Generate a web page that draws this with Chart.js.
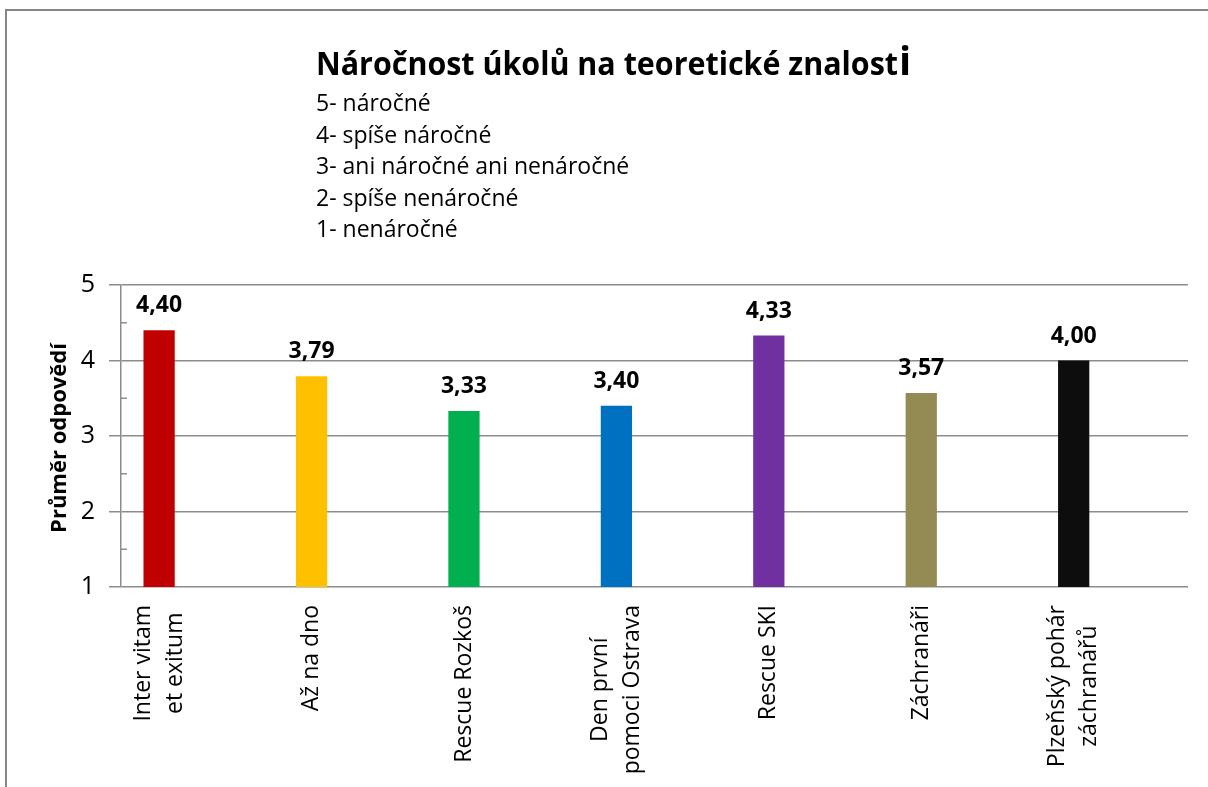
<!DOCTYPE html>
<html>
<head>
<meta charset="utf-8">
<script src="https://cdn.jsdelivr.net/npm/chart.js@4.4.0/dist/chart.umd.min.js"></script>
<style>
  body { margin: 0; background: #fff; }
  #wrap { width: 1208px; height: 787px; }
</style>
</head>
<body>
<div id="wrap"><canvas id="myChart" width="1208" height="787"></canvas></div>
<script>
const categories = [
  ["Inter vitam", "et exitum"],
  ["Až na dno"],
  ["Rescue Rozkoš"],
  ["Den první", "pomoci Ostrava"],
  ["Rescue SKI"],
  ["Záchranáři"],
  ["Plzeňský pohár", "záchranářů"]
];
const averages = [4.40, 3.79, 3.33, 3.40, 4.33, 3.57, 4.00];
// second (empty) series, as in the source sheet: it keeps the bars left of centre
const emptySeries = [null, null, null, null, null, null, null];
const barColors = ["#C00000", "#FFC000", "#00B050", "#0070C0", "#7030A0", "#948A54", "#0D0D0D"];
const chartTitle = "Náročnost úkolů na teoretické znalost";
const scaleNotes = [
  "5- náročné",
  "4- spíše náročné",
  "3- ani náročné ani nenáročné",
  "2- spíše nenáročné",
  "1- nenáročné"
];
const yTitle = "Průměr odpovědí";
const yTicks = [1, 2, 3, 4, 5];
const FONT = "'Open Sans', 'Noto Sans', sans-serif";

// frame, title and the scale explanation
const decorPlugin = {
  id: "decor",
  beforeDraw(chart) {
    const ctx = chart.ctx;
    ctx.save();
    ctx.fillStyle = "#fff";
    ctx.fillRect(0, 0, chart.width, chart.height);
    ctx.strokeStyle = "#868686";
    ctx.lineWidth = 2;
    ctx.beginPath();
    ctx.moveTo(6, chart.height);
    ctx.lineTo(6, 10);
    ctx.lineTo(chart.width, 10);
    ctx.stroke();

    ctx.fillStyle = "#000";
    ctx.textAlign = "left";
    ctx.textBaseline = "alphabetic";
    ctx.font = "bold 32px " + FONT;
    ctx.fillText(chartTitle, 316, 75, 582);
    const w = Math.min(ctx.measureText(chartTitle).width, 582);
    ctx.font = "bold 40px " + FONT;
    ctx.fillText("i", 316 + w + 1, 75);

    ctx.font = "23px " + FONT;
    scaleNotes.forEach((t, i) => {
      ctx.fillText(t, 316, 111 + i * 31.5);
    });

    ctx.font = "bold 22px " + FONT;
    ctx.textAlign = "center";
    ctx.textBaseline = "middle";
    ctx.save();
    ctx.translate(60, 438);
    ctx.rotate(-Math.PI / 2);
    ctx.fillText(yTitle, 0, 0);
    ctx.restore();
    ctx.restore();
  }
};

// values above bars, minor ticks and x labels
const labelPlugin = {
  id: "labels",
  afterDatasetsDraw(chart) {
    const ctx = chart.ctx;
    const meta = chart.getDatasetMeta(0);
    ctx.save();
    ctx.fillStyle = "#000";
    ctx.textAlign = "center";
    ctx.textBaseline = "alphabetic";
    ctx.font = "bold 23px " + FONT;
    meta.data.forEach((bar, i) => {
      ctx.fillText(averages[i].toFixed(2).replace(".", ","), bar.x, bar.y - 18);
    });

    const y = chart.scales.y;
    ctx.strokeStyle = "#8c8c8c";
    ctx.lineWidth = 1.5;
    for (let v = 1.5; v < 5; v += 1) {
      const py = y.getPixelForValue(v);
      ctx.beginPath();
      ctx.moveTo(chart.chartArea.left, py);
      ctx.lineTo(chart.chartArea.left + 6, py);
      ctx.stroke();
    }

    ctx.font = "23px " + FONT;
    ctx.textBaseline = "middle";
    categories.forEach((lines, i) => {
      const cx = meta.data[i].x;
      const maxW = Math.max(...lines.map(l => ctx.measureText(l).width));
      ctx.save();
      ctx.translate(cx, chart.chartArea.bottom + 18);
      ctx.rotate(-Math.PI / 2);
      lines.forEach((l, j) => {
        ctx.fillText(l, -maxW / 2, (j - (lines.length - 1) / 2) * 32);
      });
      ctx.restore();
    });
    ctx.restore();
  }
};

new Chart(document.getElementById("myChart"), {
  type: "bar",
  data: {
    labels: categories,
    datasets: [{
      data: averages,
      backgroundColor: barColors,
      borderWidth: 0,
      barPercentage: 0.41,
      categoryPercentage: 1
    }, {
      data: emptySeries,
      backgroundColor: "#fff",
      borderWidth: 0,
      barPercentage: 0.41,
      categoryPercentage: 1
    }]
  },
  options: {
    responsive: false,
    animation: false,
    layout: { padding: { top: 285, right: 20, left: 0, bottom: 0 } },
    plugins: {
      legend: { display: false },
      tooltip: { enabled: false }
    },
    scales: {
      x: {
        grid: { display: false, drawTicks: false },
        border: { display: false },
        ticks: { display: false },
        afterFit(scale) { scale.height = 200; }
      },
      y: {
        min: 1,
        max: 5,
        afterBuildTicks(scale) { scale.ticks = yTicks.map(v => ({ value: v })); },
        grid: { color: "#8c8c8c", lineWidth: 1.5, tickLength: 12 },
        border: { color: "#8c8c8c", width: 1.5 },
        ticks: { color: "#000", padding: 14, font: { family: FONT, size: 25 } },
        afterFit(scale) { scale.width = 121; }
      }
    }
  },
  plugins: [decorPlugin, labelPlugin]
});
</script>
</body>
</html>
